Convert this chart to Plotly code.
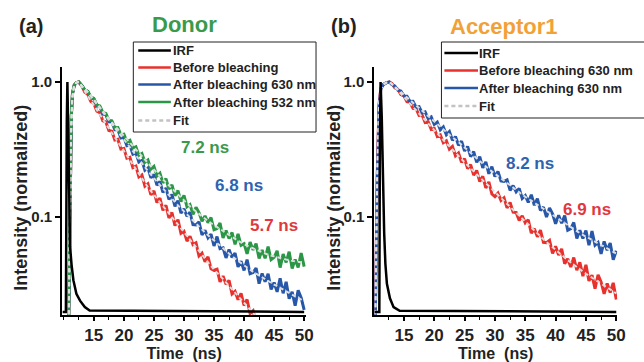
import plotly.graph_objects as go

FONT = "Arial, 'Liberation Sans', Helvetica, sans-serif"

# ---------------- Panel (a): Donor ----------------
t_a = [9.8, 10.8, 10.95, 11.1, 11.25, 11.45, 11.75, 12.1, 12.5,
       13.0, 13.5, 14.0, 14.5, 15.0, 15.5, 16.0, 16.5, 17.0, 17.5,
       18.0, 18.5, 19.0, 19.5, 20.0, 20.5, 21.0, 21.5, 22.0, 22.5,
       23.0, 23.5, 24.0, 24.5, 25.0, 25.5, 26.0, 26.5, 27.0, 27.5,
       28.0, 28.5, 29.0, 29.5, 30.0, 30.5, 31.0, 31.5, 32.0, 32.5,
       33.0, 33.5, 34.0, 34.5, 35.0, 35.5, 36.0, 36.5, 37.0, 37.5,
       38.0, 38.5, 39.0, 39.5, 40.0, 40.5, 41.0, 41.5, 42.0, 42.5,
       43.0, 43.5, 44.0, 44.5, 45.0, 45.5, 46.0, 46.5, 47.0, 47.5,
       48.0, 48.5, 49.0, 49.5, 50.0]

donor_before = [0.015, 0.015, 0.05, 0.2, 0.55, 0.82, 0.95, 0.99, 1.0,
                0.933, 0.840, 0.809, 0.716, 0.692, 0.607, 0.592, 0.516, 0.506, 0.438,
                0.432, 0.372, 0.376, 0.319, 0.322, 0.273, 0.277, 0.232, 0.238, 0.198,
                0.205, 0.169, 0.176, 0.146, 0.156, 0.128, 0.138, 0.112, 0.122, 0.0984,
                0.108, 0.0863, 0.0957, 0.0757,
                0.0783, 0.0662, 0.0719, 0.0625, 0.0643, 0.0515, 0.0540, 0.0466, 0.0507, 0.0414,
                0.0403, 0.0410, 0.0331, 0.0365, 0.0317, 0.0339, 0.0269, 0.0281, 0.0244, 0.0272,
                0.0221, 0.0245, 0.0193, 0.0202, 0.0164, 0.0165]

donor_after630 = [0.015, 0.015, 0.048, 0.19, 0.55, 0.82, 0.945, 0.985, 0.995,
                  0.942, 0.871, 0.853, 0.767, 0.750, 0.668, 0.653, 0.579, 0.571, 0.507,
                  0.506, 0.443, 0.442, 0.385, 0.390, 0.337, 0.341, 0.292, 0.299, 0.255,
                  0.262, 0.222, 0.231, 0.195, 0.206, 0.172, 0.183, 0.152, 0.164, 0.135,
                  0.147, 0.120, 0.132, 0.107,
                  0.1148, 0.1012, 0.1084, 0.0879, 0.0875, 0.0920, 0.0736, 0.0798, 0.0700, 0.0746,
                  0.0610, 0.0716, 0.0582, 0.0590, 0.0498, 0.0573, 0.0501, 0.0540, 0.0427, 0.0470,
                  0.0402, 0.0484, 0.0380, 0.0388, 0.0419, 0.0321, 0.0382, 0.0331, 0.0379, 0.0291,
                  0.0327, 0.0279, 0.0351, 0.0272, 0.0331, 0.0248, 0.0279, 0.0220, 0.0286, 0.0252,
                  0.0205]

donor_after532 = [0.015, 0.015, 0.05, 0.2, 0.56, 0.83, 0.95, 0.99, 1.0,
                  0.944, 0.875, 0.853, 0.776, 0.755, 0.676, 0.664, 0.596, 0.585, 0.522,
                  0.515, 0.458, 0.459, 0.407, 0.411, 0.362, 0.370, 0.324, 0.331, 0.286,
                  0.295, 0.254, 0.264, 0.226, 0.237, 0.201, 0.211, 0.179, 0.192, 0.161,
                  0.173, 0.144, 0.157, 0.130,
                  0.1445, 0.1191, 0.1236, 0.1047, 0.1180, 0.1079, 0.0931, 0.1019, 0.0908, 0.0989,
                  0.0804, 0.0822, 0.0902, 0.0700, 0.0794, 0.0692, 0.0767, 0.0627, 0.0748, 0.0617,
                  0.0635, 0.0533, 0.0652, 0.0570, 0.0635, 0.0492, 0.0570, 0.0494, 0.0603, 0.0483,
                  0.0502, 0.0562, 0.0422, 0.0531, 0.0461, 0.0553, 0.0416, 0.0484, 0.0422, 0.0541,
                  0.0429]

fit_t_a = [10.8, 11.0, 11.2, 11.4, 11.7, 12.1, 12.5,
           13, 14, 15, 16, 17, 18, 19, 20, 21, 22, 23, 24, 25, 26, 27, 28, 29, 30,
           31, 32, 33, 34, 35, 36, 37, 38, 39, 40, 41, 42, 43, 44, 45, 46, 47, 48, 49, 50]

fit_a_before = [0.015, 0.08, 0.4, 0.75, 0.93, 0.99, 1.0,
                0.923, 0.794, 0.676, 0.575, 0.490, 0.417, 0.359, 0.309, 0.264, 0.226,
                0.194, 0.166, 0.146, 0.129, 0.114, 0.100, 0.0881, 0.0776, 0.0681, 0.0597,
                0.0525, 0.0462, 0.0407, 0.0367, 0.0327, 0.0292, 0.0260, 0.0232, 0.0207, 0.0184,
                0.0164]

fit_a_630 = [0.015, 0.08, 0.4, 0.75, 0.93, 0.99, 1.0,
             0.933, 0.841, 0.733, 0.638, 0.556, 0.490, 0.427, 0.376, 0.327, 0.285,
             0.249, 0.219, 0.194, 0.172, 0.153, 0.136, 0.122, 0.110, 0.0989, 0.0891,
             0.0807, 0.0733, 0.0668, 0.0610, 0.0558, 0.0513, 0.0473, 0.0437, 0.0407, 0.0380,
             0.0356, 0.0335, 0.0316, 0.0299, 0.0282, 0.0266, 0.0251, 0.0237]

fit_a_532 = [0.015, 0.08, 0.4, 0.75, 0.93, 0.99, 1.0,
             0.933, 0.841, 0.741, 0.646, 0.569, 0.501, 0.447, 0.398, 0.355, 0.316,
             0.282, 0.251, 0.224, 0.200, 0.180, 0.162, 0.146, 0.132, 0.120, 0.110,
             0.101, 0.0933, 0.0871, 0.0813, 0.0759, 0.0708, 0.0667, 0.0627, 0.0600, 0.0569,
             0.0547, 0.0525, 0.0511, 0.0495, 0.0484, 0.0473, 0.0465, 0.0457]

irf_t_a = [9.8, 10.35, 10.5, 10.6, 10.75, 10.9, 11.05, 11.3, 11.6, 12.1, 12.7, 13.5, 14.3, 50.0]
irf_a = [0.0198, 0.0198, 0.5, 1.0, 0.4, 0.13, 0.06, 0.044, 0.034, 0.027, 0.024, 0.0215, 0.0203, 0.0198]

# ---------------- Panel (b): Acceptor1 ----------------
t_b = [10.15, 10.3, 10.6, 10.9, 11.2, 11.6, 12.1, 12.6,
       13.0, 13.5, 14.0, 14.5, 15.0, 15.5, 16.0, 16.5, 17.0, 17.5,
       18.0, 18.5, 19.0, 19.5, 20.0, 20.5, 21.0, 21.5, 22.0, 22.5,
       23.0, 23.5, 24.0, 24.5, 25.0, 25.5, 26.0, 26.5, 27.0, 27.5,
       28.0, 28.5, 29.0, 29.5, 30.0, 30.5, 31.0, 31.5, 32.0, 32.5,
       33.0, 33.5, 34.0, 34.5, 35.0, 35.5, 36.0, 36.5, 37.0, 37.5,
       38.0, 38.5, 39.0, 39.5, 40.0, 40.5, 41.0, 41.5, 42.0, 42.5,
       43.0, 43.5, 44.0, 44.5, 45.0, 45.5, 46.0, 46.5, 47.0, 47.5,
       48.0, 48.5, 49.0, 49.5, 50.0]

acc_before = [0.015, 0.02, 0.2, 0.68, 0.9, 0.96, 0.99, 1.0,
              0.975, 0.904, 0.883, 0.807, 0.791, 0.716, 0.708, 0.638, 0.634, 0.566,
              0.570, 0.502, 0.508, 0.446, 0.453, 0.395, 0.406, 0.355, 0.367, 0.318,
              0.333, 0.284, 0.298, 0.254, 0.270, 0.228, 0.244, 0.204, 0.221, 0.183,
              0.200, 0.164, 0.182, 0.148,
              0.1413, 0.1501, 0.1326, 0.1387, 0.1167, 0.1281, 0.1086, 0.1080, 0.0944, 0.1020,
              0.0904, 0.0952, 0.0758, 0.0819, 0.0713, 0.0799, 0.0649, 0.0646, 0.0671, 0.0537,
              0.0606, 0.0523, 0.0581, 0.0450, 0.0491, 0.0426, 0.0501, 0.0403, 0.0462, 0.0365,
              0.0442, 0.0336, 0.0371, 0.0295, 0.0373, 0.0330, 0.0270, 0.0322, 0.0276, 0.0325,
              0.0245]

acc_after = [0.015, 0.019, 0.18, 0.65, 0.89, 0.955, 0.985, 1.0,
             0.957, 0.935, 0.869, 0.857, 0.789, 0.785, 0.716, 0.719, 0.650, 0.656,
             0.590, 0.601, 0.536, 0.551, 0.486, 0.505, 0.442, 0.465, 0.407, 0.429,
             0.370, 0.394, 0.340, 0.364, 0.308, 0.333, 0.280, 0.305, 0.254, 0.280,
             0.231, 0.256, 0.209, 0.236,
             0.1991, 0.2175, 0.1851, 0.1837, 0.1882, 0.1576, 0.1708, 0.1538, 0.1627, 0.1371,
             0.1442, 0.1282, 0.1462, 0.1222, 0.1365, 0.1117, 0.1184, 0.1000, 0.1164, 0.1057,
             0.0892, 0.1029, 0.0898, 0.1023, 0.0797, 0.0820, 0.0911, 0.0692, 0.0798, 0.0692,
             0.0795, 0.0617, 0.0785, 0.0619, 0.0648, 0.0534, 0.0659, 0.0568, 0.0641, 0.0483,
             0.0562]

fit_t_b = [10.15, 10.3, 10.6, 10.9, 11.2, 11.6, 12.1, 12.6,
           13, 14, 15, 16, 17, 18, 19, 20, 21, 22, 23, 24, 25, 26, 27, 28, 29, 30,
           31, 32, 33, 34, 35, 36, 37, 38, 39, 40, 41, 42, 43, 44, 45, 46, 47, 48, 49, 50]

fit_b_before = [0.015, 0.02, 0.2, 0.68, 0.9, 0.96, 0.99, 1.0,
                0.966, 0.871, 0.776, 0.692, 0.617, 0.550, 0.490, 0.437, 0.389, 0.351,
                0.316, 0.282, 0.254, 0.229, 0.207, 0.186, 0.168, 0.153, 0.138, 0.124,
                0.112, 0.102, 0.0923, 0.0832, 0.0759, 0.0684, 0.0624, 0.0569, 0.0519, 0.0479,
                0.0442, 0.0407, 0.0380, 0.0355, 0.0331, 0.0309, 0.0288, 0.0272]

fit_b_after = [0.015, 0.019, 0.18, 0.65, 0.89, 0.955, 0.985, 1.0,
               0.966, 0.881, 0.803, 0.733, 0.668, 0.610, 0.556, 0.507, 0.462, 0.427,
               0.389, 0.359, 0.327, 0.299, 0.272, 0.248, 0.226, 0.209, 0.193, 0.178,
               0.164, 0.151, 0.141, 0.132, 0.123, 0.115, 0.107, 0.100, 0.0933, 0.0871,
               0.0813, 0.0759, 0.0716, 0.0676, 0.0638, 0.0603, 0.0569, 0.0537]

irf_t_b = [10.15, 10.95, 11.05, 11.16, 11.35, 11.55, 11.75, 11.95, 12.2, 12.7, 13.3, 14.3, 50.0]
irf_b = [0.0198, 0.0198, 0.4, 1.0, 0.55, 0.18, 0.076, 0.045, 0.032, 0.025, 0.0215, 0.0202, 0.0198]

x_tick_vals = [15, 20, 25, 30, 35, 40, 45, 50]
y_tick_vals = [0.1, 1.0]
y_tick_text = ["0.1", "1.0"]

legend_a_labels = ["IRF", "Before bleaching", "After bleaching 630 nm", "After bleaching 532 nm", "Fit"]
legend_b_labels = ["IRF", "Before bleaching 630 nm", "After bleaching 630 nm", "Fit"]

RED = "#e8302c"
BLUE = "#2757a8"
GREEN = "#2b9646"
FIT = "#dedede"
FIT_KEY = "#c2c2c2"
DASH = "4px,3px"

legend_a_colors = ["black", RED, BLUE, GREEN, FIT_KEY]
legend_b_colors = ["black", RED, BLUE, FIT_KEY]

fig = go.Figure()


def line(x, y, color, width, name, xa, ya, dash=None):
    fig.add_trace(go.Scatter(
        x=x[:len(y)], y=y, mode="lines", name=name,
        line=dict(color=color, width=width, dash=dash),
        xaxis=xa, yaxis=ya, showlegend=False))


# panel a
line(t_a, donor_before, RED, 3, "Before bleaching", "x", "y")
line(t_a, donor_after630, BLUE, 3, "After bleaching 630 nm", "x", "y")
line(t_a, donor_after532, GREEN, 3, "After bleaching 532 nm", "x", "y")
line(fit_t_a, fit_a_before, FIT, 2, "Fit", "x", "y", dash=DASH)
line(fit_t_a, fit_a_630, FIT, 2, "Fit", "x", "y", dash=DASH)
line(fit_t_a, fit_a_532, FIT, 2, "Fit", "x", "y", dash=DASH)
line(irf_t_a, irf_a, "black", 2.5, "IRF", "x", "y")

# panel b
line(t_b, acc_before, RED, 3, "Before bleaching 630 nm", "x2", "y2")
line(t_b, acc_after, BLUE, 3, "After bleaching 630 nm", "x2", "y2")
line(fit_t_b, fit_b_before, FIT, 2, "Fit", "x2", "y2", dash=DASH)
line(fit_t_b, fit_b_after, FIT, 2, "Fit", "x2", "y2", dash=DASH)
line(irf_t_b, irf_b, "black", 2.5, "IRF", "x2", "y2")

W, H = 644, 362


def px(v):
    return v / W


def py(v):
    return 1 - v / H


xcommon = dict(
    showline=True, linecolor="black", linewidth=2, showgrid=False, zeroline=False,
    ticks="outside", ticklen=4, tickwidth=1.5, tickcolor="black",
    tickmode="array", tickvals=x_tick_vals,
    minor=dict(tickmode="linear", tick0=0, dtick=2.5, ticks="outside", ticklen=3,
               tickwidth=1.2, tickcolor="black"),
    tickfont=dict(family=FONT, size=17, color="#222", weight="bold"),
    title=dict(text="Time\u00a0 (ns)", font=dict(family=FONT, size=16, color="#222", weight="bold"),
               standoff=3),
)
ycommon = dict(
    type="log", range=[-1.726, 0.111],
    showline=True, linecolor="black", linewidth=2, showgrid=False, zeroline=False,
    ticks="outside", ticklen=5, tickwidth=1.5, tickcolor="black",
    tickmode="array", tickvals=y_tick_vals, ticktext=y_tick_text,
    tickfont=dict(family=FONT, size=15, color="#222", weight="bold"),
    domain=[py(315), py(67)],
)

fig.update_layout(
    width=W, height=H, autosize=False,
    margin=dict(l=0, r=0, t=0, b=0),
    paper_bgcolor="white", plot_bgcolor="white",
    showlegend=False,
    xaxis=dict(xcommon, domain=[px(63), px(310)], range=[9.74, 50.33], anchor="y"),
    yaxis=dict(ycommon, anchor="x"),
    xaxis2=dict(xcommon, domain=[px(379), px(625)], range=[10.12, 50.16], anchor="y2"),
    yaxis2=dict(ycommon, anchor="x2"),
)

# y-axis titles
for xc in (21, 338):
    fig.add_annotation(text="Intensity (normalized)", x=px(xc), y=py(198), xref="paper", yref="paper",
                       textangle=-90, showarrow=False, xanchor="center", yanchor="middle",
                       font=dict(family=FONT, size=18, color="#222", weight="bold"))

# legend boxes (drawn as a key: frame, line samples and labels)
def draw_key(labels, colors, box, rows, x_line, x_text):
    x0, y0, x1, y1 = box
    fig.add_shape(type="rect", xref="paper", yref="paper",
                  x0=px(x0), x1=px(x1), y0=py(y1), y1=py(y0),
                  line=dict(color="#222", width=1), fillcolor="white", layer="above")
    for lab, col, yy in zip(labels, colors, rows):
        fig.add_shape(type="line", xref="paper", yref="paper",
                      x0=px(x_line[0]), x1=px(x_line[1]), y0=py(yy), y1=py(yy),
                      line=dict(color=col, width=2.5, dash=DASH if lab == "Fit" else None))
        fig.add_annotation(text=lab, x=px(x_text), y=py(yy), xref="paper", yref="paper",
                           showarrow=False, xanchor="left", yanchor="middle",
                           font=dict(family=FONT, size=13, color="#222", weight="bold"))


draw_key(legend_a_labels, legend_a_colors, (135, 42, 320, 132), [50.5, 67.5, 84.5, 102, 120.5],
         (140, 173), 173)
draw_key(legend_b_labels, legend_b_colors, (447, 42, 662, 118), [53, 70.5, 88, 106],
         (450, 484), 483)

annots = [
    ("(a)", 31, 26, "#222", 20),
    ("Donor", 187, 25, "#3a9a4c", 22),
    ("(b)", 348, 26, "#222", 20),
    ("Acceptor1", 510, 26, "#f2a137", 22),
    ("7.2 ns", 208, 147, "#3a9a4c", 17),
    ("6.8 ns", 242, 185, "#2e63b0", 17),
    ("5.7 ns", 277, 226, "#e0383e", 17),
    ("8.2 ns", 537, 163, "#2e63b0", 17),
    ("6.9 ns", 594, 209, "#e0383e", 17),
]
for text, x, y, color, size in annots:
    fig.add_annotation(text=text, x=px(x), y=py(y), xref="paper", yref="paper",
                       showarrow=False, xanchor="center", yanchor="middle",
                       font=dict(family=FONT, size=size, color=color, weight="bold"))

fig.write_html("out.html")
